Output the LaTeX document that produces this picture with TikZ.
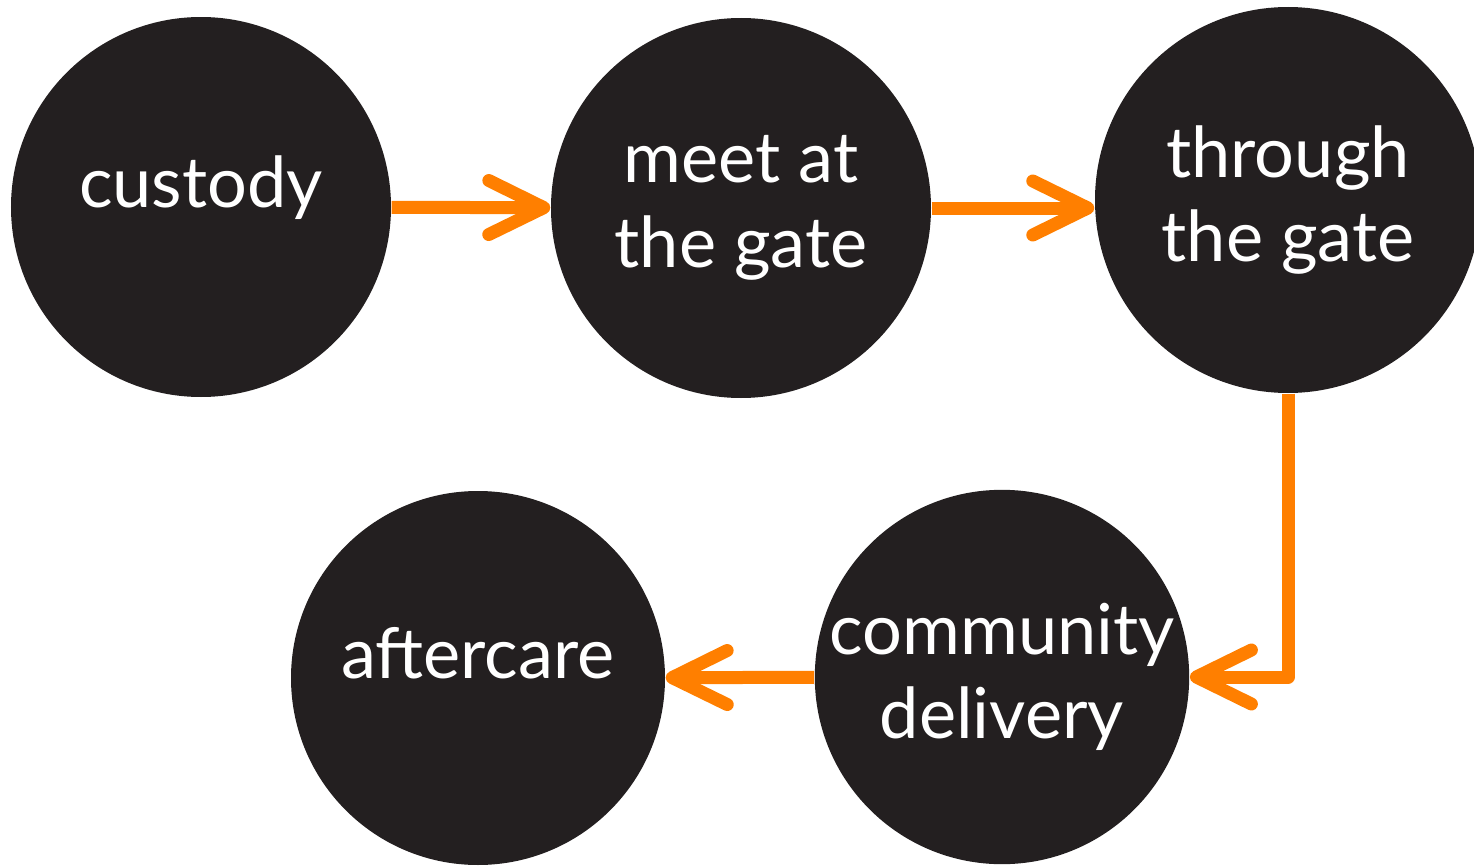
\documentclass[tikz,border=0pt]{standalone}
\usepackage{fontspec}
\setmainfont{Lato}
\usetikzlibrary{arrows.meta}
\definecolor{board}{HTML}{231F20}
\definecolor{flow}{HTML}{FF7F00}
\tikzset{
stage/.style={circle,fill=board,text=white,inner sep=0pt,align=center,font=\fontsize{20pt}{24pt}\selectfont},
oneline/.style={text height=0pt,text depth=0pt},
arrow/.style={draw=flow,line width=1.3mm,line join=round,-{Straight Barb[length=5.5mm,width=5.4mm,round]}}
}
\begin{document}
\begin{tikzpicture}
\useasboundingbox(0,0)rectangle(14.74,-8.66);
\node[stage,oneline,minimum size=3.8cm](custody)at(2.01,-2.07){custody};
\node[stage,minimum size=3.8cm](meet)at(7.41,-2.08){meet at\\the gate};
\node[stage,minimum size=3.86cm](through)at(12.88,-2.00){through\\the gate};
\node[stage,minimum size=3.7cm](community)at(10.02,-6.77){community\\delivery};
\node[stage,oneline,minimum size=3.74cm](aftercare)at(4.78,-6.78){aftercare};
\draw[arrow](custody)--(meet);
\draw[arrow](meet.east)--(meet.east-|through.west);
\draw[arrow](through.south)|-(community.east);
\draw[arrow](community)--(aftercare);
\end{tikzpicture}
\end{document}
